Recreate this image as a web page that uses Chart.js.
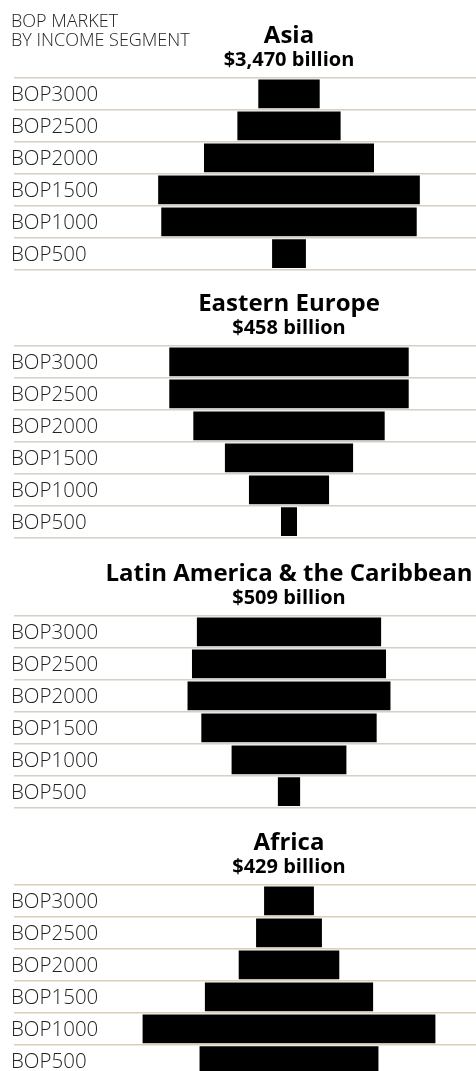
<!DOCTYPE html>
<html>
<head>
<meta charset="utf-8">
<script src="https://cdn.jsdelivr.net/npm/chart.js@4/dist/chart.umd.min.js"></script>
<style>
  html, body { margin: 0; padding: 0; background: #fff; overflow: hidden; }
  body { width: 476px; height: 1071px; position: relative; }
  canvas { position: absolute; left: 0; }
  #header { position: absolute; left: 11px; top: 11px; z-index: 2; font: 300 18px/19px "Open Sans"; color: #222; }
</style>
</head>
<body>
<canvas id="asia" width="476" height="282" style="top:0px"></canvas>
<canvas id="europe" width="476" height="282" style="top:268px"></canvas>
<canvas id="latam" width="476" height="282" style="top:538px"></canvas>
<canvas id="africa" width="476" height="282" style="top:807px"></canvas>
<div id="header">BOP MARKET<br>BY INCOME SEGMENT</div>
<script>
// income segments, top to bottom
const categories = ["BOP3000", "BOP2500", "BOP2000", "BOP1500", "BOP1000", "BOP500"];

const regions = ["Asia", "Eastern Europe", "Latin America & the Caribbean", "Africa"];
const totals = ["$3,470 billion", "$458 billion", "$509 billion", "$429 billion"];

// share of each region's BOP market (%)
const asia = [6.9, 11.6, 19.1, 29.4, 28.7, 3.8];
const easternEurope = [26.9, 26.9, 21.5, 14.4, 9.0, 1.8];
const latinAmerica = [20.7, 21.8, 22.8, 19.7, 12.9, 2.5];
const africa = [5.6, 7.4, 11.3, 18.9, 32.9, 20.1];

const canvasIds = ["asia", "europe", "latam", "africa"];
const shares = [asia, easternEurope, latinAmerica, africa];

const fontName = "Open Sans";
const lineColor = "#d8cfc2";

function makeChart(id, title, total, values) {
  return new Chart(document.getElementById(id), {
    type: "bar",
    data: {
      labels: categories,
      datasets: [{
        // centred bars: each one runs from -v/2 to v/2
        data: values.map((v) => [-v / 2, v / 2]),
        backgroundColor: "#000",
        barPercentage: 0.9,
        categoryPercentage: 1
      }]
    },
    options: {
      indexAxis: "y",
      responsive: false,
      animation: false,
      // bottom padding is eaten by the half label height (12px) chart.js reserves
      layout: { padding: { left: 11, right: 0, top: 0, bottom: 2 } },
      plugins: {
        legend: { display: false },
        tooltip: { enabled: false },
        title: {
          display: true,
          text: title,
          color: "#000",
          fullSize: false,
          font: { family: fontName, size: 24, weight: "bold", lineHeight: 1.1 },
          padding: { top: 23, bottom: 0 }
        },
        subtitle: {
          display: true,
          text: total,
          color: "#000",
          fullSize: false,
          font: { family: fontName, size: 20, weight: "bold", lineHeight: 1.1 },
          padding: { top: 0.3, bottom: 6.3 }
        }
      },
      scales: {
        x: { display: false, min: -21.01, max: 21.01 },
        y: {
          afterFit: (scale) => { scale.width = 91; },
          border: { display: false },
          grid: { color: lineColor, lineWidth: 1.5, drawTicks: true, tickLength: 88, offset: true },
          ticks: {
            crossAlign: "far",
            padding: 0,
            labelOffset: 1.5,
            color: "#222",
            font: { family: fontName, size: 20.5, weight: 300 }
          }
        }
      }
    }
  });
}

for (let i = 0; i < regions.length; i++) {
  makeChart(canvasIds[i], regions[i], totals[i], shares[i]);
}
</script>
</body>
</html>
